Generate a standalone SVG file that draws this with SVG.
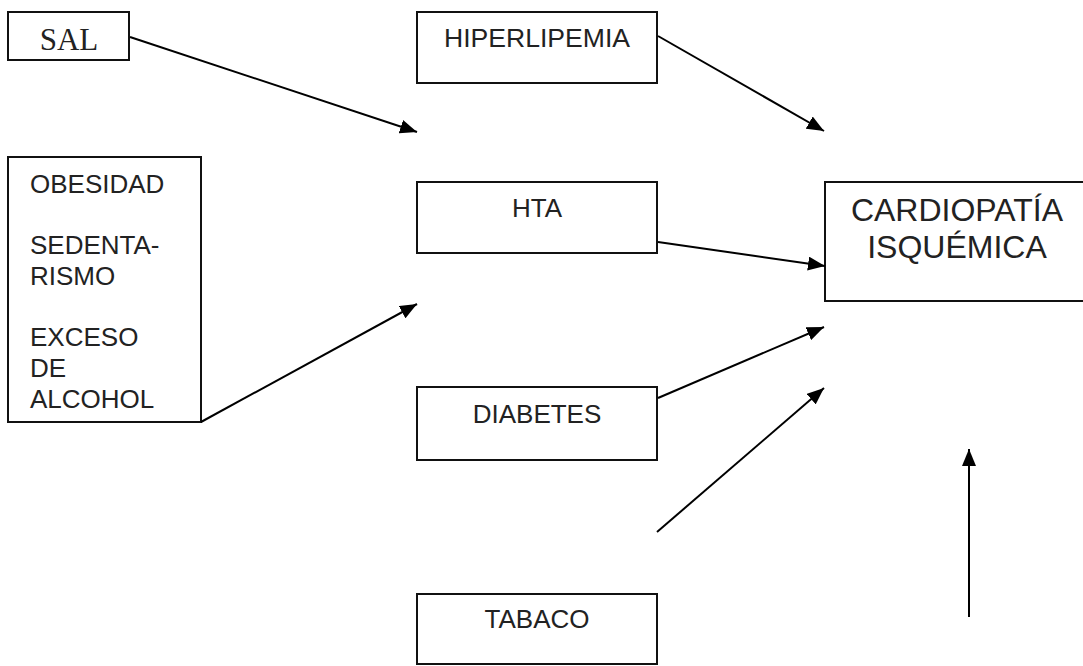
<svg xmlns="http://www.w3.org/2000/svg" width="1083" height="666" viewBox="0 0 1083 666">
<defs>
<style>
.box{fill:#fff;stroke:#111;stroke-width:2}
.t{font-family:"Liberation Sans",Arial,sans-serif;font-size:26px;fill:#222}
.c{text-anchor:middle}
.big{font-size:32px}
.serif{font-family:"Liberation Serif","Times New Roman",serif;font-size:31px;fill:#222}
.ln{stroke:#000;stroke-width:2;fill:none;marker-end:url(#ah)}
</style>
<marker id="ah" markerUnits="userSpaceOnUse" markerWidth="18" markerHeight="14" refX="17" refY="7" orient="auto">
<path d="M0,0 L17,7 L0,14 z" fill="#000"/>
</marker>
</defs>
<rect width="1083" height="666" fill="#fff"/>
<g id="sal">
<rect class="box" x="8" y="12" width="121" height="48"/>
<text class="serif c" x="69" y="50">SAL</text>
</g>
<g id="hiperlipemia">
<rect class="box" x="417" y="12" width="240" height="71"/>
<text class="t c" x="537" y="47" textLength="186" lengthAdjust="spacingAndGlyphs">HIPERLIPEMIA</text>
</g>
<g id="obesidad">
<rect class="box" x="8" y="157" width="193" height="265"/>
<text class="t" x="30" y="193">OBESIDAD</text>
<text class="t" x="30" y="254">SEDENTA-</text>
<text class="t" x="30" y="285">RISMO</text>
<text class="t" x="30" y="346">EXCESO</text>
<text class="t" x="30" y="377">DE</text>
<text class="t" x="30" y="408">ALCOHOL</text>
</g>
<g id="hta">
<rect class="box" x="417" y="182" width="240" height="71"/>
<text class="t c" x="537" y="217">HTA</text>
</g>
<g id="cardiopatia">
<rect class="box" x="825" y="182" width="270" height="119"/>
<text class="t big c" x="957" y="221">CARDIOPATÍA</text>
<text class="t big c" x="957" y="258">ISQUÉMICA</text>
</g>
<g id="diabetes">
<rect class="box" x="417" y="387" width="240" height="73"/>
<text class="t c" x="537" y="423">DIABETES</text>
</g>
<g id="tabaco">
<rect class="box" x="417" y="594" width="240" height="70"/>
<text class="t c" x="537" y="628">TABACO</text>
</g>
<g id="connectors">
<line class="ln" x1="130" y1="37" x2="417" y2="132"/>
<line class="ln" x1="658" y1="36" x2="824" y2="131"/>
<line class="ln" x1="201" y1="422" x2="417" y2="304"/>
<line class="ln" x1="658" y1="242" x2="825" y2="266"/>
<line class="ln" x1="658" y1="398" x2="824" y2="327"/>
<line class="ln" x1="657" y1="532" x2="824" y2="388"/>
<line class="ln" x1="969" y1="617" x2="969" y2="449"/>
</g>
</svg>
